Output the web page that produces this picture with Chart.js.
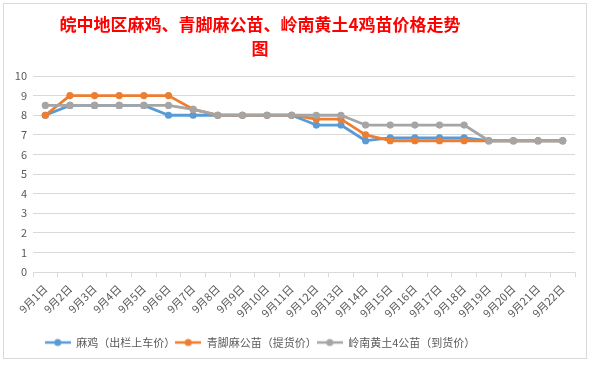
<!DOCTYPE html>
<html>
<head>
<meta charset="utf-8">
<script src="https://cdn.jsdelivr.net/npm/chart.js@4"></script>
<style>
  html, body { margin: 0; padding: 0; background: #fff; }
  #wrap { position: relative; width: 592px; height: 365px; }
  #frame { position: absolute; left: 3px; top: 3px; width: 584px; height: 356px; border: 1px solid #d9d9d9; box-sizing: border-box; }
  #title { position: absolute; left: 40px; width: 440px; top: 12px; text-align: center;
    font-family: "Noto Sans CJK SC", sans-serif; font-weight: bold; font-size: 17px; line-height: 24px; color: #ff0000; }
  canvas { position: absolute; left: 0; top: 0; }
</style>
</head>
<body>
<div id="wrap">
  <div id="frame"></div>
  <canvas id="c" width="592" height="365"></canvas>
  <div id="title">皖中地区麻鸡、青脚麻公苗、岭南黄土4鸡苗价格走势<br>图</div>
</div>
<script>
// --- Daten ---
const days = ['9月1日','9月2日','9月3日','9月4日','9月5日','9月6日','9月7日','9月8日','9月9日','9月10日','9月11日',
  '9月12日','9月13日','9月14日','9月15日','9月16日','9月17日','9月18日','9月19日','9月20日','9月21日','9月22日'];
const maji = [8,8.5,8.5,8.5,8.5,8,8,8,8,8,8,7.5,7.5,6.7,6.85,6.85,6.85,6.85,6.7,6.7,6.7,6.7];
const qingjiao = [8,9,9,9,9,9,8.3,8,8,8,8,7.8,7.8,7,6.7,6.7,6.7,6.7,6.7,6.7,6.7,6.7];
const lingnan = [8.5,8.5,8.5,8.5,8.5,8.5,8.3,8,8,8,8,8,8,7.5,7.5,7.5,7.5,7.5,6.7,6.7,6.7,6.7];
const seriesNames = ['麻鸡（出栏上车价）','青脚麻公苗（提货价）','岭南黄土4公苗（到货价）'];
const yTicks = [0,1,2,3,4,5,6,7,8,9,10];

const colors = ['#5b9bd5','#ed7d31','#a5a5a5'];

// Legend-Symbol: Linie mit Punkt
function legendIcon(col) {
  const cv = document.createElement('canvas');
  cv.width = 26; cv.height = 10;
  const g = cv.getContext('2d');
  g.strokeStyle = col; g.lineWidth = 2.5;
  g.beginPath(); g.moveTo(0,5); g.lineTo(26,5); g.stroke();
  g.fillStyle = col;
  g.beginPath(); g.arc(13,5,3.5,0,Math.PI*2); g.fill();
  return cv;
}

// Legende etwas nach links schieben (wie im Original)
const legendShift = {
  id: 'legendShift',
  afterUpdate(chart) { chart.legend.right -= 60; }
};

const sets = [maji, qingjiao, lingnan].map((vals, i) => ({
  label: seriesNames[i],
  data: vals,
  borderColor: colors[i],
  backgroundColor: colors[i],
  borderWidth: 2.8,
  pointRadius: 3.6,
  pointHoverRadius: 3.6,
  pointBorderWidth: 0,
  tension: 0,
  borderJoinStyle: 'round',
  order: 2 - i,
  pointStyle: 'circle'
}));

new Chart(document.getElementById('c').getContext('2d'), {
  type: 'line',
  data: { labels: days, datasets: sets },
  plugins: [legendShift],
  options: {
    responsive: false,
    animation: false,
    layout: { padding: { top: 76, left: 5, right: 17, bottom: 7 } },
    plugins: {
      title: { display: false },
      tooltip: { enabled: false },
      legend: {
        position: 'bottom',
        labels: {
          usePointStyle: true,
          pointStyleWidth: 26,
          font: { family: 'Noto Sans CJK SC', size: 11 },
          color: '#595959',
          padding: 0,
          generateLabels: chart => chart.data.datasets.map((d, i) => ({
            text: d.label,
            pointStyle: legendIcon(colors[i]),
            fillStyle: colors[i],
            strokeStyle: colors[i],
            fontColor: '#595959',
            datasetIndex: i,
            hidden: false
          }))
        }
      }
    },
    scales: {
      x: {
        offset: true,
        afterFit: axis => { axis.height += 12; },
        grid: { display: true, drawOnChartArea: false, drawTicks: true, tickLength: 5, color: '#d9d9d9', offset: true },
        border: { display: true, color: '#d9d9d9' },
        ticks: {
          maxRotation: 45, minRotation: 45, autoSkip: false,
          color: '#595959', font: { family: 'Noto Sans CJK SC', size: 11 }, padding: 5
        }
      },
      y: {
        min: 0, max: 10,
        afterBuildTicks: axis => { axis.ticks = yTicks.map(v => ({ value: v })); },
        afterFit: axis => { axis.width = 28; },
        grid: { color: '#d9d9d9', drawTicks: false },
        border: { display: false },
        ticks: { color: '#595959', font: { family: 'Noto Sans CJK SC', size: 11 }, padding: 6 }
      }
    }
  }
});
</script>
</body>
</html>
